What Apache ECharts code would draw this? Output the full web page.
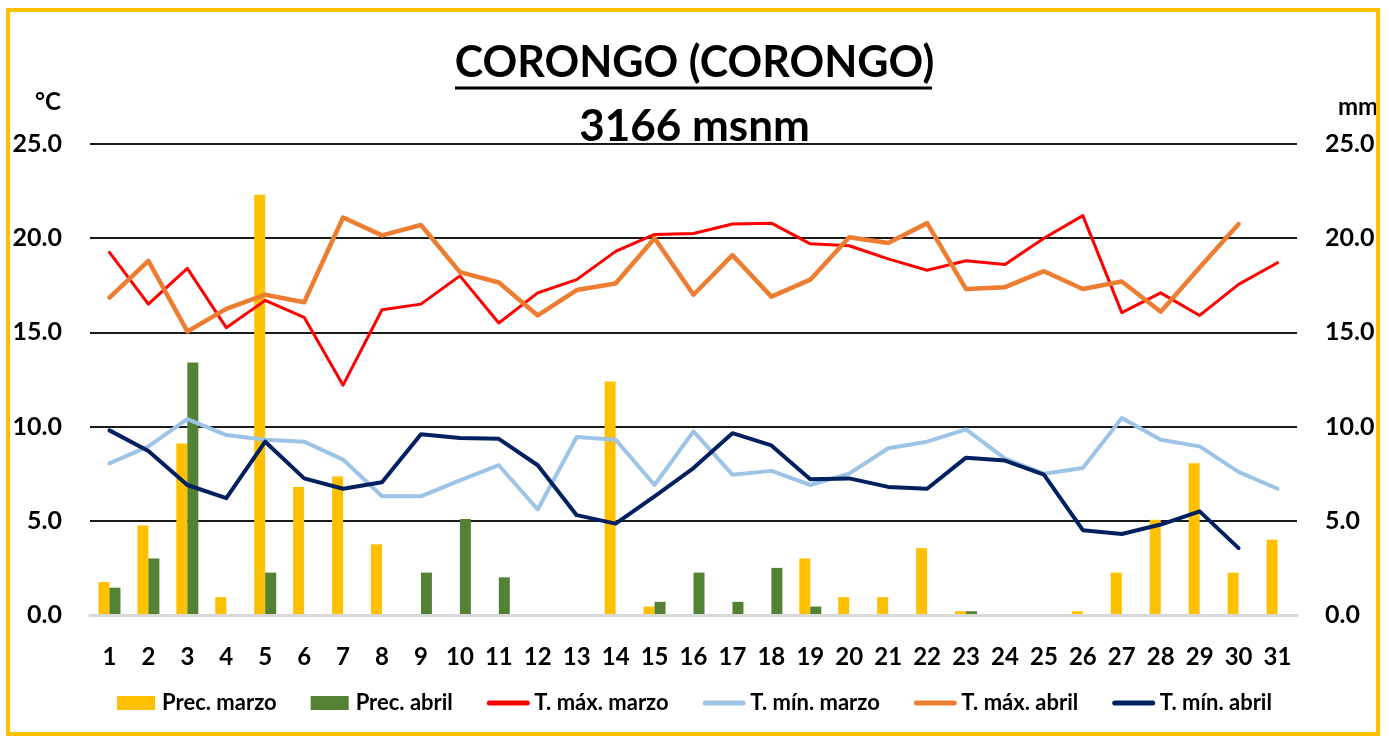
<!DOCTYPE html>
<html>
<head>
<meta charset="utf-8">
<script src="https://cdn.jsdelivr.net/npm/echarts@6/dist/echarts.min.js"></script>
<style>
html,body{margin:0;padding:0;background:#fff;}
#chart{width:1389px;height:736px;}
</style>
</head>
<body>
<div id="chart"></div>
<script>
const days = ['1','2','3','4','5','6','7','8','9','10','11','12','13','14','15','16','17','18','19','20','21','22','23','24','25','26','27','28','29','30','31'];
const yTicks = [0, 5, 10, 15, 20, 25];
const precMarzo = [1.75,4.75,9.1,0.95,22.3,6.8,7.35,3.75,null,null,null,null,null,12.4,0.45,null,null,null,3.0,0.95,0.95,3.55,0.2,null,null,0.2,2.25,5.05,8.05,2.25,4.0];
const precAbril = [1.45,3.0,13.4,null,2.25,null,null,null,2.25,5.1,2.0,null,null,null,0.7,2.25,0.7,2.5,0.45,null,null,null,0.2,null,null,null,null,null,null,null,null];
const tmaxMarzo = [19.25,16.5,18.4,15.25,16.7,15.8,12.2,16.2,16.5,18.0,15.5,17.1,17.8,19.3,20.2,20.25,20.75,20.8,19.7,19.6,18.9,18.3,18.8,18.6,20.0,21.2,16.05,17.1,15.9,17.55,18.7];
const tminMarzo = [8.05,8.95,10.4,9.55,9.3,9.2,8.25,6.3,6.3,7.15,7.95,5.6,9.45,9.3,6.9,9.75,7.45,7.65,6.9,7.5,8.85,9.2,9.85,8.3,7.5,7.8,10.45,9.3,8.95,7.6,6.7];
const tmaxAbril = [16.85,18.8,15.05,16.25,17.0,16.6,21.1,20.15,20.7,18.2,17.65,15.9,17.25,17.6,20.0,17.0,19.1,16.9,17.8,20.05,19.75,20.8,17.3,17.4,18.25,17.3,17.7,16.1,18.45,20.75,null];
const tminAbril = [9.8,8.7,6.9,6.2,9.2,7.25,6.7,7.05,9.6,9.4,9.35,7.95,5.3,4.85,6.3,7.8,9.65,9.0,7.2,7.25,6.8,6.7,8.35,8.2,7.45,4.5,4.3,4.8,5.5,3.55,null];

const FONT = 'Lato, "Open Sans", sans-serif';
const chart = echarts.init(document.getElementById('chart'), null, {renderer:'canvas'});
const lbl = {fontFamily: FONT, fontWeight: 'bold', fontSize: 25, color: '#000'};

function lineSeries(name, data, color, width) {
  return {name, type:'line', data, yAxisIndex:0, symbol:'none', showSymbol:false,
    lineStyle:{color, width, cap:'round', join:'round'}, itemStyle:{color}, z:3, connectNulls:false};
}
function lineLegend(name) {
  return {name, itemStyle:{opacity:0}, lineStyle:{width:5}};
}

chart.setOption({
  animation:false,
  backgroundColor:'#fff',
  title:[
    {text:'CORONGO (CORONGO)', left:'center', top:37, textStyle:{fontFamily:FONT, fontWeight:'bold', fontSize:43, color:'#000'}},
    {text:'3166 msnm', left:'center', top:100, textStyle:{fontFamily:FONT, fontWeight:'bold', fontSize:44, color:'#000'}},
    {text:'°C', left:30, top:85, textStyle:{fontFamily:FONT, fontWeight:'bold', fontSize:24, color:'#000'}},
    {text:'mm', left:1333, top:90, textStyle:{fontFamily:FONT, fontWeight:'bold', fontSize:24, color:'#000'}}
  ],
  graphic:[
    {type:'line', shape:{x1:455, y1:88, x2:932, y2:88}, style:{stroke:'#000', lineWidth:3}, z:10},
    {type:'rect', shape:{x:8, y:10, width:1370, height:724}, style:{fill:'none', stroke:'#FFC000', lineWidth:4}, z:10}
  ],
  grid:{left:90, right:92, top:144, bottom:121, containLabel:false},
  legend:{
    top:687, left:'center', itemWidth:38, itemHeight:14, itemGap:34,
    textStyle:{fontFamily:FONT, fontWeight:'bold', fontSize:22, color:'#000', padding:[0,0,0,2]},
    data:[
      {name:'Prec. marzo', icon:'rect'},
      {name:'Prec. abril', icon:'rect'},
      lineLegend('T. máx. marzo'), lineLegend('T. mín. marzo'), lineLegend('T. máx. abril'), lineLegend('T. mín. abril')
    ]
  },
  xAxis:{
    type:'category', data:days, boundaryGap:true,
    axisTick:{show:false},
    axisLine:{show:true, lineStyle:{color:'#d9d9d9', width:3}},
    axisLabel:Object.assign({margin:30, interval:0}, lbl, {fontSize:24}),
    z:5
  },
  yAxis:[
    {type:'value', min:yTicks[0], max:yTicks[yTicks.length-1], interval:5,
     axisLine:{show:false}, axisTick:{show:false},
     axisLabel:Object.assign({margin:28, formatter:v=>v.toFixed(1)}, lbl),
     splitLine:{show:true, lineStyle:{color:'#1a1a1a', width:2}}},
    {type:'value', min:yTicks[0], max:yTicks[yTicks.length-1], interval:5, position:'right',
     axisLine:{show:false}, axisTick:{show:false},
     axisLabel:Object.assign({margin:28, formatter:v=>v.toFixed(1)}, lbl),
     splitLine:{show:false}}
  ],
  series:[
    {name:'Prec. marzo', type:'bar', data:precMarzo, yAxisIndex:1, barWidth:11, barGap:'0%', itemStyle:{color:'#FFC000'}, z:2},
    {name:'Prec. abril', type:'bar', data:precAbril, yAxisIndex:1, barWidth:11, barGap:'0%', itemStyle:{color:'#548235'}, z:2},
    lineSeries('T. máx. marzo', tmaxMarzo, '#FF0000', 3),
    lineSeries('T. mín. marzo', tminMarzo, '#9DC3E6', 4),
    lineSeries('T. máx. abril', tmaxAbril, '#ED7D31', 4.5),
    lineSeries('T. mín. abril', tminAbril, '#002060', 4)
  ]
});
</script>
</body>
</html>
